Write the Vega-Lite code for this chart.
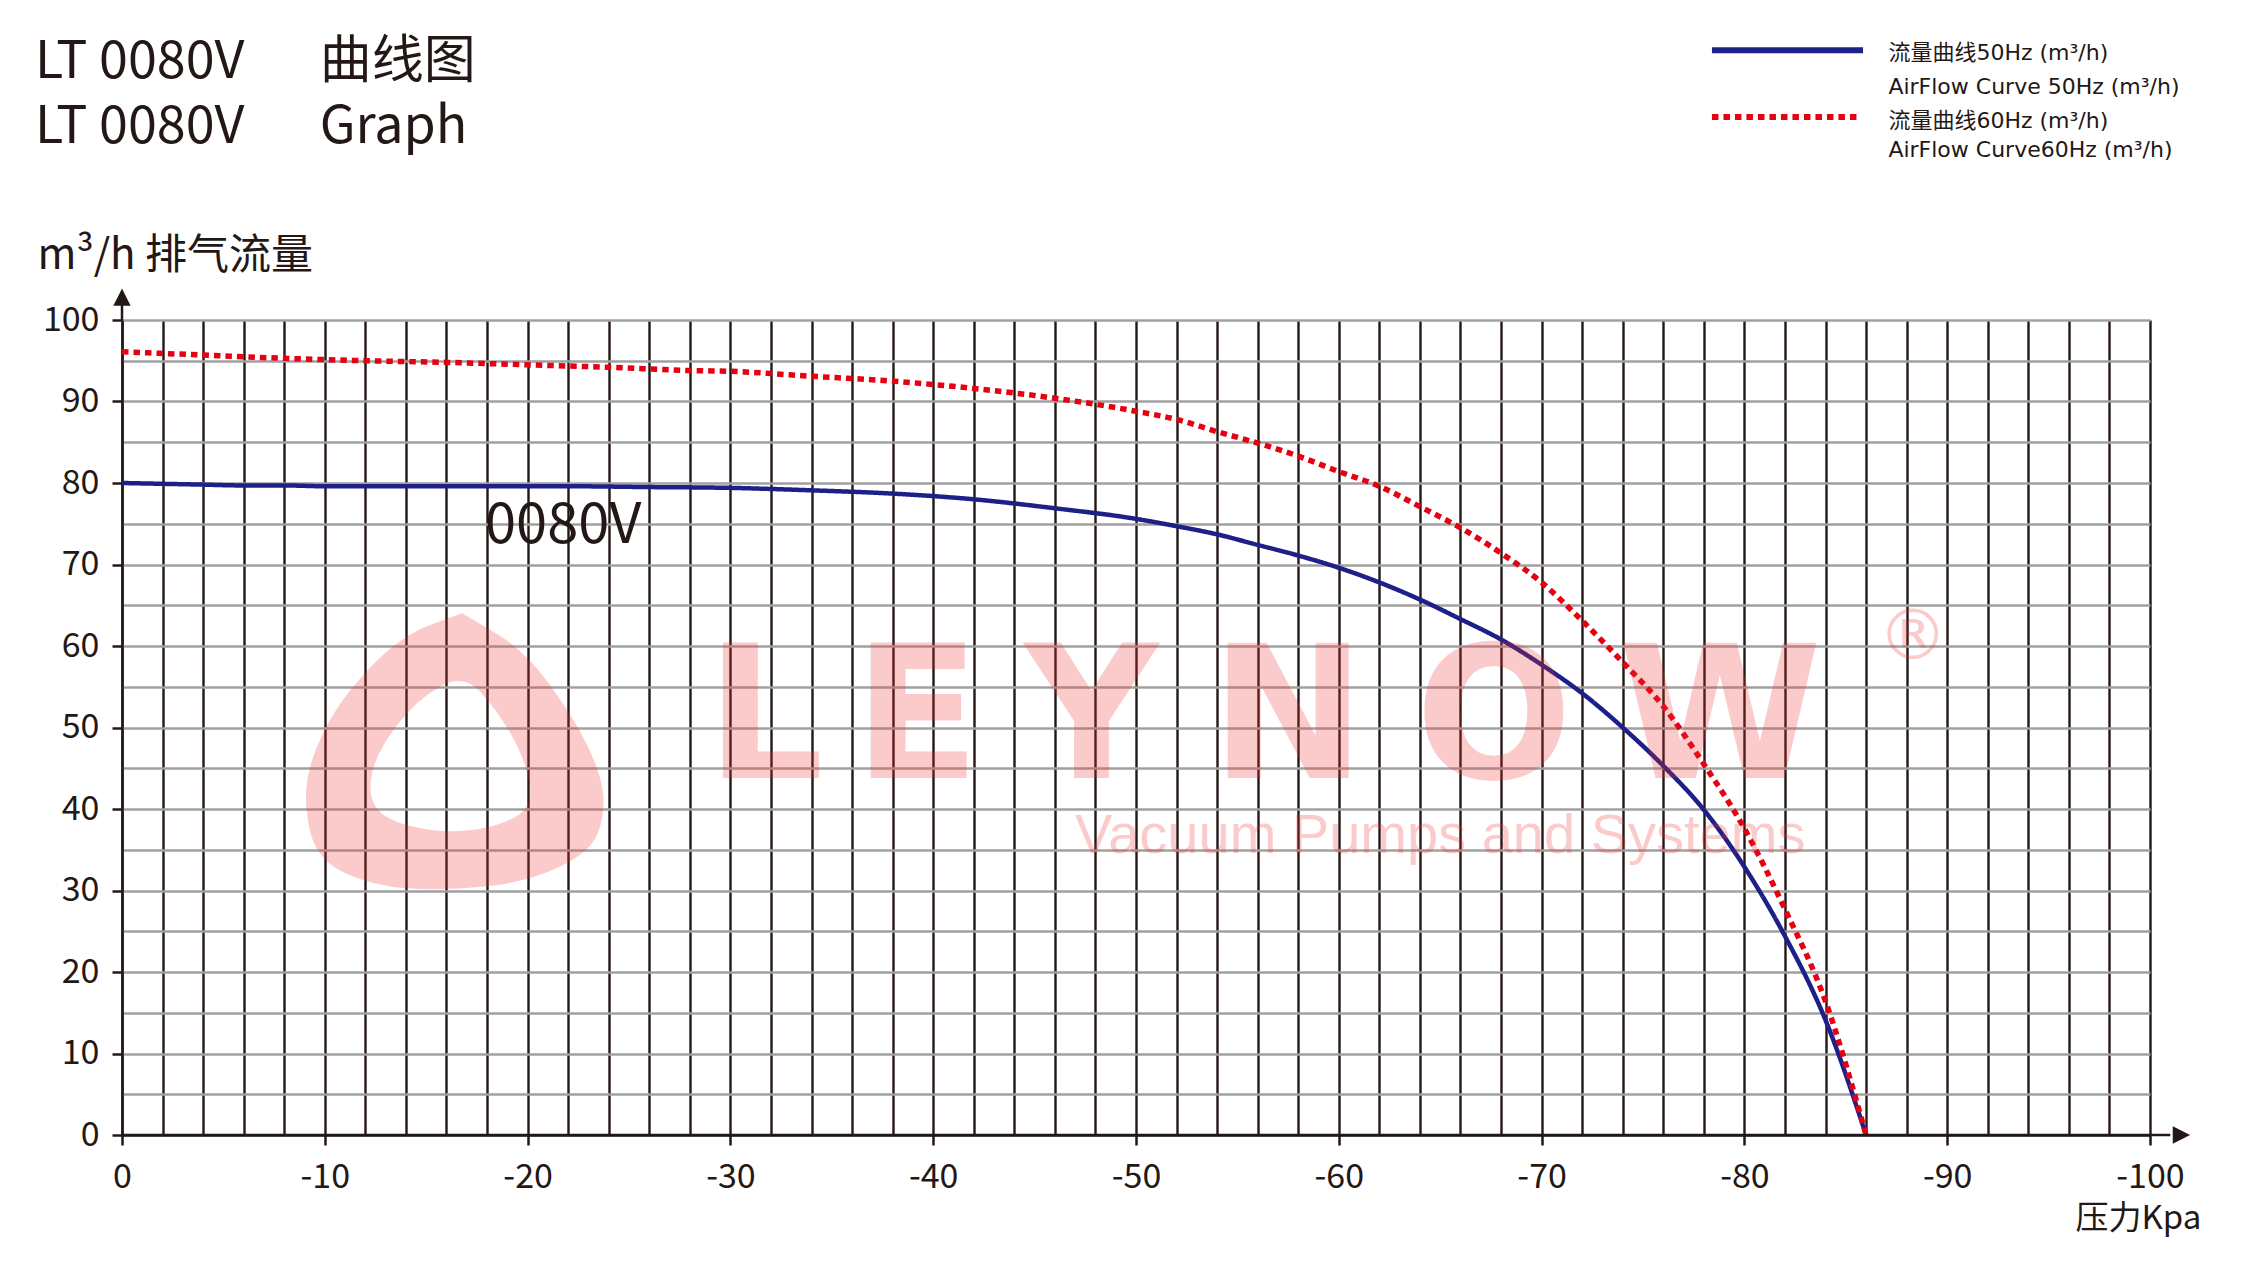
{
  "$schema": "https://vega.github.io/schema/vega-lite/v6.json",
  "width": 2028,
  "height": 815,
  "autosize": {"type": "none"},
  "padding": {"left": 122, "top": 320, "right": 92, "bottom": 131},
  "background": "white",
  "config": {"view": {"stroke": null}, "font": "Noto Sans CJK SC"},
  "datasets": {
    "curves": [
      {"series": "50Hz", "p": 0, "q": 80.0},
      {"series": "50Hz", "p": -2, "q": 79.9},
      {"series": "50Hz", "p": -4, "q": 79.8},
      {"series": "50Hz", "p": -6, "q": 79.7},
      {"series": "50Hz", "p": -8, "q": 79.7},
      {"series": "50Hz", "p": -10, "q": 79.6},
      {"series": "50Hz", "p": -14, "q": 79.6},
      {"series": "50Hz", "p": -18, "q": 79.6},
      {"series": "50Hz", "p": -22, "q": 79.6},
      {"series": "50Hz", "p": -26, "q": 79.5},
      {"series": "50Hz", "p": -30, "q": 79.4},
      {"series": "50Hz", "p": -34, "q": 79.1},
      {"series": "50Hz", "p": -38, "q": 78.7},
      {"series": "50Hz", "p": -42, "q": 78.0},
      {"series": "50Hz", "p": -46, "q": 76.9},
      {"series": "50Hz", "p": -50, "q": 75.6},
      {"series": "50Hz", "p": -52, "q": 74.7},
      {"series": "50Hz", "p": -54, "q": 73.7},
      {"series": "50Hz", "p": -56, "q": 72.4},
      {"series": "50Hz", "p": -58, "q": 71.1},
      {"series": "50Hz", "p": -60, "q": 69.6},
      {"series": "50Hz", "p": -62, "q": 67.8},
      {"series": "50Hz", "p": -64, "q": 65.7},
      {"series": "50Hz", "p": -66, "q": 63.3},
      {"series": "50Hz", "p": -68, "q": 60.8},
      {"series": "50Hz", "p": -70, "q": 57.7},
      {"series": "50Hz", "p": -72, "q": 54.2},
      {"series": "50Hz", "p": -74, "q": 50.0},
      {"series": "50Hz", "p": -76, "q": 45.3},
      {"series": "50Hz", "p": -78, "q": 39.9},
      {"series": "50Hz", "p": -80, "q": 32.9},
      {"series": "50Hz", "p": -82, "q": 24.4},
      {"series": "50Hz", "p": -84, "q": 14.1},
      {"series": "50Hz", "p": -86, "q": 0},
      {"series": "60Hz", "p": 0, "q": 96.1},
      {"series": "60Hz", "p": -4, "q": 95.7},
      {"series": "60Hz", "p": -8, "q": 95.3},
      {"series": "60Hz", "p": -12, "q": 95.0},
      {"series": "60Hz", "p": -16, "q": 94.8},
      {"series": "60Hz", "p": -20, "q": 94.5},
      {"series": "60Hz", "p": -24, "q": 94.2},
      {"series": "60Hz", "p": -28, "q": 93.8},
      {"series": "60Hz", "p": -30, "q": 93.7},
      {"series": "60Hz", "p": -34, "q": 93.1},
      {"series": "60Hz", "p": -38, "q": 92.5},
      {"series": "60Hz", "p": -42, "q": 91.6},
      {"series": "60Hz", "p": -46, "q": 90.4},
      {"series": "60Hz", "p": -50, "q": 88.8},
      {"series": "60Hz", "p": -52, "q": 87.8},
      {"series": "60Hz", "p": -54, "q": 86.3},
      {"series": "60Hz", "p": -56, "q": 84.9},
      {"series": "60Hz", "p": -58, "q": 83.3},
      {"series": "60Hz", "p": -60, "q": 81.4},
      {"series": "60Hz", "p": -62, "q": 79.6},
      {"series": "60Hz", "p": -64, "q": 77.1},
      {"series": "60Hz", "p": -66, "q": 74.5},
      {"series": "60Hz", "p": -68, "q": 71.4},
      {"series": "60Hz", "p": -70, "q": 67.8},
      {"series": "60Hz", "p": -72, "q": 63.1},
      {"series": "60Hz", "p": -74, "q": 58.0},
      {"series": "60Hz", "p": -76, "q": 52.6},
      {"series": "60Hz", "p": -78, "q": 45.5},
      {"series": "60Hz", "p": -80, "q": 37.6},
      {"series": "60Hz", "p": -82, "q": 27.7},
      {"series": "60Hz", "p": -84, "q": 16.4},
      {"series": "60Hz", "p": -86, "q": 0}
    ],
    "heading": [
      {"text": "LT 0080V\u3000\u00a0\u00a0曲线图", "p": 4.29, "q": 129.7},
      {"text": "LT 0080V\u3000\u00a0\u00a0Graph", "p": 4.29, "q": 121.7}
    ],
    "logo": [{"name": "LEYNOW logo", "p": -16.4, "q": 47.0}],
    "brand": [
      {"text": "L", "p": -31.7, "q": 43.8},
      {"text": "E", "p": -39.2, "q": 43.8},
      {"text": "Y", "p": -47.8, "q": 43.8},
      {"text": "N", "p": -57.5, "q": 43.8},
      {"text": "O", "p": -67.65, "q": 43.8},
      {"text": "W", "p": -78.8, "q": 43.8}
    ],
    "reg": [{"text": "®", "p": -88.3, "q": 61.0}],
    "tagline": [{"text": "Vacuum Pumps and Systems", "p": -65.0, "q": 34.6}],
    "model": [{"text": "0080V", "p": -17.9, "q": 72.6}],
    "axisLines": [
      {"p": 0, "q": 0, "p2": -101, "q2": 0},
      {"p": 0, "q": 100, "p2": 0, "q2": 102}
    ],
    "arrows": [
      {"dir": "up", "p": 0, "q": 102.8},
      {"dir": "right", "p": -101.55, "q": 0}
    ],
    "legendLines": [
      {"series": "50Hz", "p": -78.4, "p2": -85.85, "q": 133.1},
      {"series": "60Hz", "p": -78.4, "p2": -85.65, "q": 124.9}
    ],
    "legendTexts": [
      {"text": "流量曲线50Hz (m³/h)", "p": -87.1, "q": 131.9},
      {"text": "AirFlow Curve 50Hz (m³/h)", "p": -87.1, "q": 127.7},
      {"text": "流量曲线60Hz (m³/h)", "p": -87.1, "q": 123.6},
      {"text": "AirFlow Curve60Hz (m³/h)", "p": -87.1, "q": 120.0}
    ]
  },
  "layer": [
    {
      "data": {"name": "curves"},
      "mark": {"type": "line", "interpolate": "monotone"},
      "encoding": {
        "x": {
          "field": "p", "type": "quantitative",
          "scale": {"domain": [0, -100], "nice": false, "zero": false},
          "axis": {
            "values": [0,-2,-4,-6,-8,-10,-12,-14,-16,-18,-20,-22,-24,-26,-28,-30,-32,-34,-36,-38,-40,-42,-44,-46,-48,-50,-52,-54,-56,-58,-60,-62,-64,-66,-68,-70,-72,-74,-76,-78,-80,-82,-84,-86,-88,-90,-92,-94,-96,-98,-100],
            "title": "压力Kpa",
            "titleX": 1953, "titleY": 93,
            "titleAlign": "left", "titleBaseline": "alphabetic",
            "titleFont": "Noto Sans CJK SC", "titleFontSize": 33, "titleFontWeight": "normal", "titleColor": "#231815",
            "grid": true, "gridColor": "#231815", "gridWidth": 2.4, "gridOpacity": 1,
            "domain": true, "domainColor": "#231815", "domainWidth": 2.5,
            "ticks": true, "tickSize": 10, "tickWidth": 2.5,
            "tickColor": {"condition": {"test": "datum.value % 10 === 0", "value": "#231815"}, "value": "transparent"},
            "labelExpr": "datum.value % 10 === 0 ? '' + datum.value : ''",
            "labelFont": "Noto Sans CJK SC", "labelFontSize": 34, "labelColor": "#231815",
            "labelPadding": 15, "labelOverlap": false, "labelFlush": false, "labelBound": false
          }
        },
        "y": {
          "field": "q", "type": "quantitative",
          "scale": {"domain": [0, 100], "nice": false},
          "axis": {
            "values": [0,5,10,15,20,25,30,35,40,45,50,55,60,65,70,75,80,85,90,95,100],
            "title": "m³/h 排气流量",
            "titleX": -85, "titleY": -52, "titleAngle": 0,
            "titleAlign": "left", "titleBaseline": "alphabetic",
            "titleFont": "Noto Sans CJK SC", "titleFontSize": 42, "titleFontWeight": "normal", "titleColor": "#231815",
            "grid": true,
            "gridColor": {"condition": {"test": "datum.value === 0", "value": "transparent"}, "value": "#a0a0a0"},
            "gridWidth": 2.6, "gridOpacity": 1,
            "domain": true, "domainColor": "#231815", "domainWidth": 2.5,
            "ticks": true, "tickSize": 10, "tickWidth": 2.5,
            "tickColor": {"condition": {"test": "datum.value % 10 === 0", "value": "#231815"}, "value": "transparent"},
            "labelExpr": "datum.value % 10 === 0 ? '' + datum.value : ''",
            "labelFont": "Noto Sans CJK SC", "labelFontSize": 34, "labelColor": "#231815",
            "labelPadding": 13, "labelOverlap": false, "labelBound": false, "labelFlush": false
          }
        },
        "order": {"field": "p", "sort": "descending"},
        "color": {"field": "series", "type": "nominal", "scale": {"domain": ["50Hz", "60Hz"], "range": ["#1d2088", "#e60012"]}, "legend": null},
        "strokeDash": {"field": "series", "type": "nominal", "scale": {"domain": ["50Hz", "60Hz"], "range": [[1, 0], [6.5, 5]]}, "legend": null},
        "strokeWidth": {"field": "series", "type": "nominal", "scale": {"domain": ["50Hz", "60Hz"], "range": [4.5, 5.5]}, "legend": null}
      }
    },
    {
      "data": {"name": "heading"},
      "mark": {"type": "text", "font": "Noto Sans CJK SC", "fontSize": 52, "align": "left", "baseline": "alphabetic", "color": "#231815"},
      "encoding": {
        "x": {"field": "p", "type": "quantitative", "scale": {"domain": [0, -100], "nice": false, "zero": false}},
        "y": {"field": "q", "type": "quantitative", "scale": {"domain": [0, 100], "nice": false}},
        "text": {"field": "text"}
      }
    },
    {
      "data": {"name": "logo"},
      "mark": {
        "type": "point",
        "shape": "M0.05,-0.92 L0.255,-0.8 Q0.46,-0.68 0.625,-0.455 Q0.79,-0.23 0.88,-0.045 Q0.97,0.14 0.985,0.275 Q1,0.41 0.95,0.54 Q0.9,0.67 0.68,0.77 Q0.46,0.87 0.185,0.895 Q-0.09,0.92 -0.315,0.905 Q-0.54,0.89 -0.725,0.805 Q-0.91,0.72 -0.955,0.54 Q-1,0.36 -0.98,0.205 Q-0.96,0.05 -0.86,-0.15 Q-0.76,-0.35 -0.56,-0.56 Q-0.36,-0.77 -0.155,-0.845 Z M-0.095,-0.435 Q-0.25,-0.35 -0.38,-0.18 Q-0.51,-0.01 -0.545,0.13 Q-0.58,0.27 -0.525,0.36 Q-0.47,0.45 -0.28,0.495 Q-0.09,0.54 0.095,0.52 Q0.28,0.5 0.405,0.43 Q0.53,0.36 0.495,0.195 Q0.46,0.03 0.37,-0.125 Q0.28,-0.28 0.17,-0.4 Q0.06,-0.52 -0.095,-0.435 Z",
        "size": 90842, "filled": true, "fill": "#f03030", "opacity": 0.25, "strokeWidth": 0
      },
      "encoding": {
        "x": {"field": "p", "type": "quantitative", "scale": {"domain": [0, -100], "nice": false, "zero": false}},
        "y": {"field": "q", "type": "quantitative", "scale": {"domain": [0, 100], "nice": false}}
      }
    },
    {
      "data": {"name": "brand"},
      "mark": {"type": "text", "font": "DejaVu Sans", "fontWeight": "bold", "fontSize": 185, "align": "center", "baseline": "alphabetic", "color": "#f03030", "opacity": 0.25},
      "encoding": {
        "x": {"field": "p", "type": "quantitative", "scale": {"domain": [0, -100], "nice": false, "zero": false}},
        "y": {"field": "q", "type": "quantitative", "scale": {"domain": [0, 100], "nice": false}},
        "text": {"field": "text"}
      }
    },
    {
      "data": {"name": "reg"},
      "mark": {"type": "text", "font": "DejaVu Sans", "fontSize": 70, "align": "center", "baseline": "middle", "color": "#f03030", "opacity": 0.25},
      "encoding": {
        "x": {"field": "p", "type": "quantitative", "scale": {"domain": [0, -100], "nice": false, "zero": false}},
        "y": {"field": "q", "type": "quantitative", "scale": {"domain": [0, 100], "nice": false}},
        "text": {"field": "text"}
      }
    },
    {
      "data": {"name": "tagline"},
      "mark": {"type": "text", "font": "Liberation Sans", "fontSize": 56, "align": "center", "baseline": "alphabetic", "color": "#f03030", "opacity": 0.25},
      "encoding": {
        "x": {"field": "p", "type": "quantitative", "scale": {"domain": [0, -100], "nice": false, "zero": false}},
        "y": {"field": "q", "type": "quantitative", "scale": {"domain": [0, 100], "nice": false}},
        "text": {"field": "text"}
      }
    },
    {
      "data": {"name": "model"},
      "mark": {"type": "text", "font": "Noto Sans CJK SC", "fontSize": 56, "align": "left", "baseline": "alphabetic", "color": "#231815"},
      "encoding": {
        "x": {"field": "p", "type": "quantitative", "scale": {"domain": [0, -100], "nice": false, "zero": false}},
        "y": {"field": "q", "type": "quantitative", "scale": {"domain": [0, 100], "nice": false}},
        "text": {"field": "text"}
      }
    },
    {
      "data": {"name": "axisLines"},
      "mark": {"type": "rule", "color": "#231815", "strokeWidth": 2.5},
      "encoding": {
        "x": {"field": "p", "type": "quantitative", "scale": {"domain": [0, -100], "nice": false, "zero": false}},
        "y": {"field": "q", "type": "quantitative", "scale": {"domain": [0, 100], "nice": false}},
        "x2": {"field": "p2"},
        "y2": {"field": "q2"}
      }
    },
    {
      "data": {"name": "arrows"},
      "mark": {"type": "point", "filled": true, "fill": "#231815", "strokeWidth": 0, "opacity": 1, "size": 300},
      "encoding": {
        "x": {"field": "p", "type": "quantitative", "scale": {"domain": [0, -100], "nice": false, "zero": false}},
        "y": {"field": "q", "type": "quantitative", "scale": {"domain": [0, 100], "nice": false}},
        "shape": {"field": "dir", "type": "nominal", "scale": {"domain": ["up", "right"], "range": ["M-1,1L1,1L0,-1Z", "M-1,-1L1,0L-1,1Z"]}, "legend": null}
      }
    },
    {
      "data": {"name": "legendLines"},
      "mark": {"type": "rule", "strokeWidth": 6},
      "encoding": {
        "x": {"field": "p", "type": "quantitative", "scale": {"domain": [0, -100], "nice": false, "zero": false}},
        "x2": {"field": "p2"},
        "y": {"field": "q", "type": "quantitative", "scale": {"domain": [0, 100], "nice": false}},
        "color": {"field": "series", "type": "nominal", "scale": {"domain": ["50Hz", "60Hz"], "range": ["#1d2088", "#e60012"]}, "legend": null},
        "strokeDash": {"field": "series", "type": "nominal", "scale": {"domain": ["50Hz", "60Hz"], "range": [[1, 0], [6.5, 5]]}, "legend": null}
      }
    },
    {
      "data": {"name": "legendTexts"},
      "mark": {"type": "text", "font": "DejaVu Sans, Noto Sans CJK SC", "fontSize": 22, "align": "left", "baseline": "alphabetic", "color": "#231815"},
      "encoding": {
        "x": {"field": "p", "type": "quantitative", "scale": {"domain": [0, -100], "nice": false, "zero": false}},
        "y": {"field": "q", "type": "quantitative", "scale": {"domain": [0, 100], "nice": false}},
        "text": {"field": "text"}
      }
    }
  ]
}
